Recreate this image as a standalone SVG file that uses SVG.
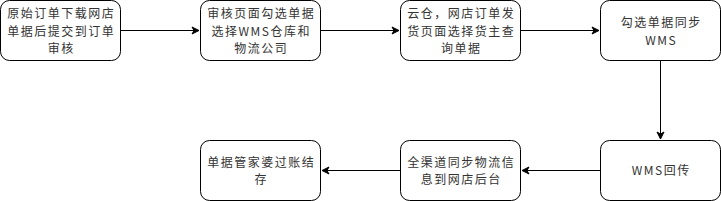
<svg xmlns="http://www.w3.org/2000/svg" width="721" height="201" viewBox="0 0 721 201">
<style>
.n{fill:#fff;stroke:#000;stroke-width:1}
.t{font-family:"Noto Sans CJK SC","Microsoft YaHei",sans-serif;font-size:12px;letter-spacing:1.5px;fill:#333;text-anchor:middle}
.e{fill:none;stroke:#000;stroke-width:1}
</style>
<defs>
<marker id="a" markerWidth="10" markerHeight="10" refX="8" refY="5" orient="auto" markerUnits="userSpaceOnUse">
<path d="M1,1.5 L8,5 L1,8.5 L3,5 Z" fill="#000" stroke="#000"/>
</marker>
</defs>
<g id="edges">
<path class="e" d="M120.5,30.5 H199" marker-end="url(#a)"/>
<path class="e" d="M320.5,30.5 H399" marker-end="url(#a)"/>
<path class="e" d="M520.5,30.5 H599" marker-end="url(#a)"/>
<path class="e" d="M660.5,60.5 V139" marker-end="url(#a)"/>
<path class="e" d="M600.5,170.5 H522" marker-end="url(#a)"/>
<path class="e" d="M400.5,170.5 H322" marker-end="url(#a)"/>
</g>
<g id="n1"><rect class="n" x="0.5" y="0.5" width="120" height="60" rx="9"/>
<text class="t"><tspan x="61.25" y="18">原始订单下载网店</tspan><tspan x="61.25" y="35.6">单据后提交到订单</tspan><tspan x="61.25" y="53.2">审核</tspan></text></g>
<g id="n2"><rect class="n" x="200.5" y="0.5" width="120" height="60" rx="9"/>
<text class="t"><tspan x="261.25" y="18">审核页面勾选单据</tspan><tspan x="261.25" y="35.6">选择WMS仓库和</tspan><tspan x="261.25" y="53.2">物流公司</tspan></text></g>
<g id="n3"><rect class="n" x="400.5" y="0.5" width="120" height="60" rx="9"/>
<text class="t"><tspan x="461.25" y="18">云仓，网店订单发</tspan><tspan x="461.25" y="35.6">货页面选择货主查</tspan><tspan x="461.25" y="53.2">询单据</tspan></text></g>
<g id="n4"><rect class="n" x="600.5" y="0.5" width="120" height="60" rx="9"/>
<text class="t"><tspan x="661.25" y="27.2">勾选单据同步</tspan><tspan x="661.25" y="44.8">WMS</tspan></text></g>
<g id="n5"><rect class="n" x="600.5" y="140.5" width="120" height="60" rx="9"/>
<text class="t" x="661.25" y="175">WMS回传</text></g>
<g id="n6"><rect class="n" x="400.5" y="140.5" width="120" height="60" rx="9"/>
<text class="t"><tspan x="461.25" y="166.8">全渠道同步物流信</tspan><tspan x="461.25" y="184.4">息到网店后台</tspan></text></g>
<g id="n7"><rect class="n" x="200.5" y="140.5" width="120" height="60" rx="9"/>
<text class="t"><tspan x="261.25" y="166.8">单据管家婆过账结</tspan><tspan x="261.25" y="184.4">存</tspan></text></g>
</svg>
